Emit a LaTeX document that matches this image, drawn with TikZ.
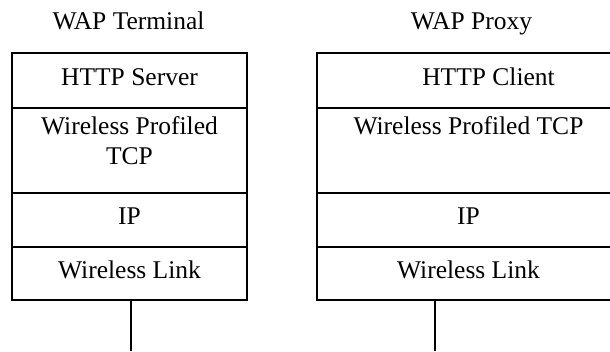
\documentclass[tikz,border=0pt]{standalone}
\usepackage{fontspec}
\setmainfont{Liberation Serif}
\usetikzlibrary{positioning}

\begin{document}
\begin{tikzpicture}[x=1pt,y=1pt,node distance=0pt,
		font=\fontsize{25.5}{30}\selectfont,
		layer/.style={draw,line width=1.4pt,outer sep=0pt,inner sep=0pt,text depth=7pt},
		toplabel/.style={anchor=north,align=center,inner sep=0pt,yshift=-8.5pt,text depth=0pt},
		offlabel/.style={inner sep=0pt,text depth=7pt,xshift=20pt},
		title/.style={inner sep=0pt,anchor=base},
		wire/.style={line width=1.4pt}]
			\useasboundingbox (0,0) rectangle (610,351);
			\clip (0,0) rectangle (610,351);
			% WAP Terminal
			\node[layer, minimum width=235pt, minimum height=55pt, anchor=north] (http_t) at (129.5,298) {HTTP Server};
			\node[layer, minimum width=235pt, minimum height=85pt, below=of http_t,
				label={[toplabel]north:Wireless Profiled\\TCP}] (tcp_t) {};
			\node[layer, minimum width=235pt, minimum height=54pt, below=of tcp_t] (ip_t) {IP};
			\node[layer, minimum width=235pt, minimum height=53pt, below=of ip_t] (link_t) {Wireless Link};
			\node[title] (name_t) at (128.5,321) {WAP Terminal};
			% WAP Proxy
			\node[layer, minimum width=303pt, minimum height=55pt, anchor=north,
				label={[offlabel]center:HTTP Client}] (http_p) at (468.5,298) {};
			\node[layer, minimum width=303pt, minimum height=85pt, below=of http_p,
				label={[toplabel]north:Wireless Profiled TCP}] (tcp_p) {};
			\node[layer, minimum width=303pt, minimum height=54pt, below=of tcp_p] (ip_p) {IP};
			\node[layer, minimum width=303pt, minimum height=53pt, below=of ip_p] (link_p) {Wireless Link};
			\node[title] (name_p) at (471.5,321) {WAP Proxy};
			% air interface
			\coordinate (air_t) at (131,0);
			\coordinate (air_p) at (435,0);
			\draw[wire] (link_t.south -| air_t) -- (air_t);
			\draw[wire] (link_p.south -| air_p) -- (air_p);
		\end{tikzpicture}
\end{document}
